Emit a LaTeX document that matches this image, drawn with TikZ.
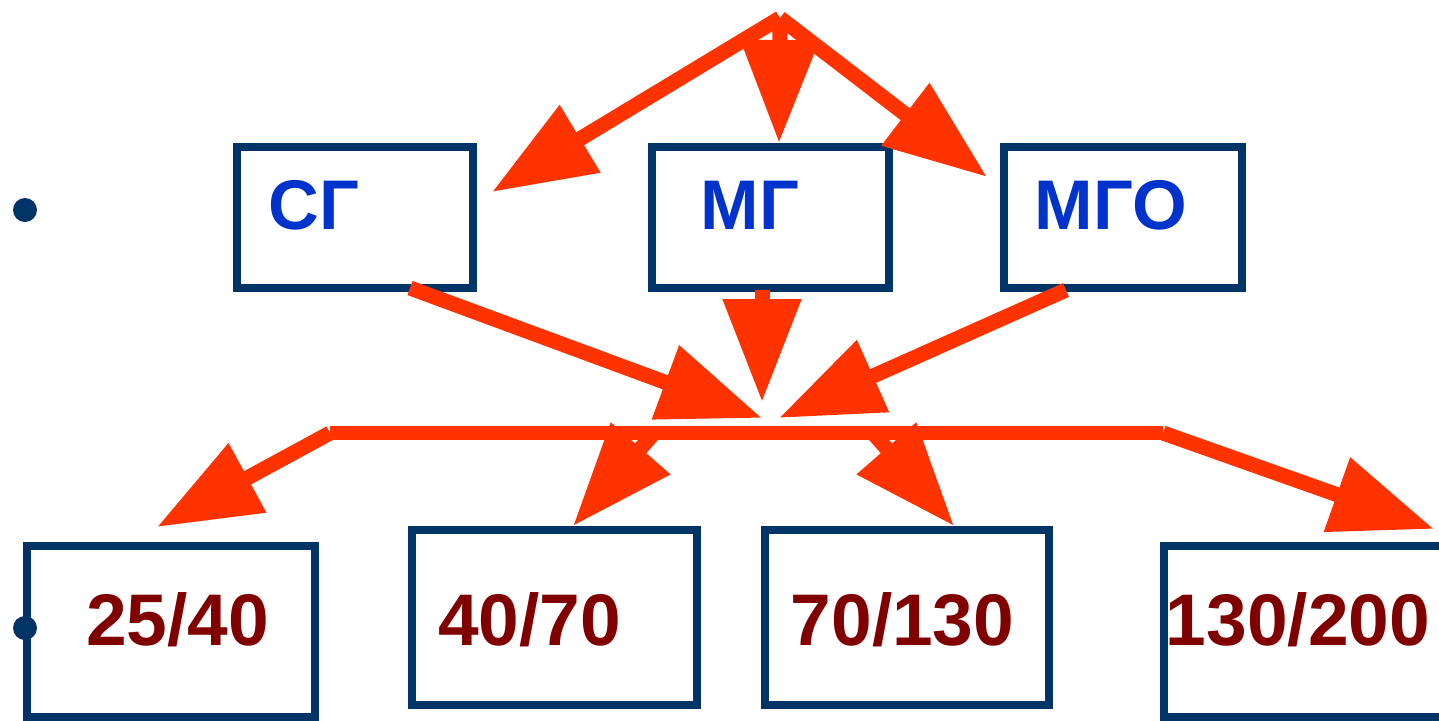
\documentclass[tikz,border=0pt]{standalone}
\usepackage{fontspec}
\setmainfont{Liberation Sans}
\usetikzlibrary{positioning,arrows.meta}

\definecolor{arrowred}{HTML}{FF3300}
\definecolor{boxnavy}{HTML}{003366}
\definecolor{gasblue}{HTML}{0033CC}
\definecolor{sizered}{HTML}{800000}

\begin{document}
\begin{tikzpicture}[x=0.1mm,y=-0.1mm]
	\path[use as bounding box] (0,0) rectangle (1439,721);
	\clip (0,0) rectangle (1439,721);
	% frames
	\begin{scope}[every node/.style={rectangle,draw=boxnavy,line width=0.8mm,inner sep=0pt}]
		\node[minimum width=23.6mm,minimum height=14.1mm] (sg) at (355,217.5) {};
		\node[minimum width=23.7mm,minimum height=14.1mm] (mg) at (770.5,217.5) {};
		\node[minimum width=23.8mm,minimum height=14.1mm] (mgo) at (1123,217.5) {};
		\node[minimum width=28.8mm,minimum height=17.1mm] (d1) at (171,631.5) {};
		\node[minimum width=28.5mm,minimum height=17.5mm] (d2) at (554.5,617.5) {};
		\node[minimum width=28.4mm,minimum height=17.5mm] (d3) at (907,617.5) {};
		\node[minimum width=28.8mm,minimum height=17.1mm] (d4) at (1308,631.5) {};
	\end{scope}
	% bullets
	\begin{scope}[every node/.style={circle,fill=boxnavy,inner sep=0pt,minimum size=2.4mm}]
		\node (dot1) at (25,210) {};
		\node (dot2) at (25,628) {};
	\end{scope}
	% names and sizes
	\begin{scope}[every node/.style={inner sep=0pt,font=\bfseries\fontsize{20}{24}\selectfont}]
		\node[text=gasblue] (sgname) at (314,205) {СГ};
		\node[text=gasblue] (mgname) at (750,205) {МГ};
		\node[text=gasblue] (mgoname) at (1111,205) {МГО};
	\end{scope}
	\begin{scope}[every node/.style={inner sep=0pt,text=sizered,font=\bfseries\fontsize{20.8}{25}\selectfont}]
		\node (d1name) at (177.5,620) {25/40};
		\node (d2name) at (529.5,620) {40/70};
		\node (d3name) at (902.5,620) {70/130};
		\node (d4name) at (1298,620) {130/200};
	\end{scope}
	% arrow ends
	\coordinate (top) at (780,18);
	\coordinate (sgin) at (492,192);
	\coordinate (mgin) at (779,143);
	\coordinate (mgoin) at (987,177);
	\coordinate (sgout) at (410,288);
	\coordinate (mgout) at (762,290);
	\coordinate (mgoout) at (1066,290);
	\coordinate (hubl) at (762,418);
	\coordinate (hubm) at (762,402);
	\coordinate (hubr) at (779,418);
	\coordinate (barl) at (330,433);
	\coordinate (barr) at (1163,433);
	\coordinate (bar2) at (654,433);
	\coordinate (bar3) at (873,433);
	\coordinate (d1in) at (157,527);
	\coordinate (d2in) at (573,526);
	\coordinate (d3in) at (954,526);
	\coordinate (d4in) at (1434,529);
	\begin{scope}[>={Triangle[length=10.3mm,width=7.5mm]},
	              every edge/.style={draw=arrowred,line width=1.5mm}]
		\path [->] (top) edge (sgin);
		\path [->] (top) edge (mgin);
		\path [->] (top) edge (mgoin);
		\path [->] (sgout) edge (hubl);
		\path [->] (mgout) edge (hubm);
		\path [->] (mgoout) edge (hubr);
		\draw [arrowred,line width=1.4mm] (barl) -- (barr);
		\path [->] (barl) edge (d1in);
		\path [->] (bar2) edge (d2in);
		\path [->] (bar3) edge (d3in);
		\path [->] (barr) edge (d4in);
	\end{scope}
\end{tikzpicture}
\end{document}
